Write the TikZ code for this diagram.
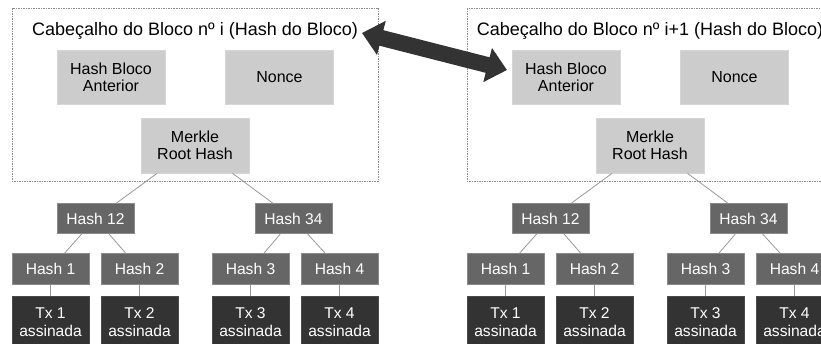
\documentclass[tikz,border=0pt]{standalone}
\usepackage{fontspec}
\setmainfont{Liberation Sans}
\usetikzlibrary{arrows.meta}
\definecolor{lightbox}{HTML}{CCCCCC}
\definecolor{lightedge}{HTML}{D6D6D6}
\definecolor{midbox}{HTML}{666666}
\definecolor{midedge}{HTML}{8A8A8A}
\definecolor{darkbox}{HTML}{333333}
\definecolor{darkedge}{HTML}{4A4A4A}
\definecolor{connc}{HTML}{999999}
\definecolor{framec}{HTML}{8C8C8C}
\definecolor{arrowc}{HTML}{333333}
\tikzset{
  lbox/.style={fill=lightbox, draw=lightedge, line width=0.6pt, inner sep=0pt, align=center,
    minimum width=108pt, minimum height=54pt, text=black,
    font=\fontsize{16}{17}\selectfont},
  hbox/.style={fill=midbox, draw=midedge, line width=0.6pt, inner sep=0pt, align=center,
    minimum width=77pt, minimum height=30.5pt, text=white,
    font=\fontsize{15.6}{17}\selectfont},
  tbox/.style={fill=darkbox, draw=darkedge, line width=0.6pt, inner sep=0pt, align=center,
    minimum width=77pt, minimum height=52pt, text=white,
    font=\fontsize{15.6}{18.3}\selectfont},
  frame/.style={draw=framec, line width=0.6pt, dash pattern=on 1.5pt off 1pt},
  titletext/.style={inner sep=0pt, font=\fontsize{18}{20}\selectfont, text=black},
  conn/.style={draw=connc, line width=0.8pt},
  bigarrow/.style={draw=arrowc, line width=16pt,
    {Triangle[length=20pt,width=34pt]}-{Triangle[length=20pt,width=34pt]}}
}
\begin{document}
\begin{tikzpicture}[x=1pt,y=-1pt]
\useasboundingbox (0,0) rectangle (821,343);
\clip (0,0) rectangle (821,343);
\fill[white] (0,0) rectangle (821,343);
\foreach \o/\p/\t/\tx in {0/a/i/195, 455/b/i+1/650}{
  \draw[frame] (\o+12,8) rectangle (\o+378,181);
  \node[titletext] (\p-title) at (\tx,31) {Cabeçalho do Bloco nº \t\ (Hash do Bloco)};
  \node[lbox] (\p-prev) at (\o+111,77) {Hash Bloco\\Anterior};
  \node[lbox] (\p-nonce) at (\o+279.5,77) {Nonce};
  \node[lbox, minimum height=55pt] (\p-m) at (\o+195,145.5) {Merkle\\Root Hash};
  \node[hbox] (\p-h12) at (\o+95.5,218.5) {Hash 12};
  \node[hbox] (\p-h34) at (\o+293.5,218.5) {Hash 34};
  \node[hbox] (\p-h1) at (\o+50.5,269) {Hash 1};
  \node[hbox] (\p-h2) at (\o+139.5,269) {Hash 2};
  \node[hbox] (\p-h3) at (\o+250.5,269) {Hash 3};
  \node[hbox] (\p-h4) at (\o+339.5,269) {Hash 4};
  \node[tbox] (\p-t1) at (\o+50.5,322) {Tx 1\\assinada};
  \node[tbox] (\p-t2) at (\o+139.5,322) {Tx 2\\assinada};
  \node[tbox] (\p-t3) at (\o+250.5,322) {Tx 3\\assinada};
  \node[tbox] (\p-t4) at (\o+339.5,322) {Tx 4\\assinada};
  \draw[conn] (\p-m) -- (\p-h12);
  \draw[conn] (\p-m) -- (\p-h34);
  \draw[conn] (\p-h12) -- (\p-h1);
  \draw[conn] (\p-h12) -- (\p-h2);
  \draw[conn] (\p-h34) -- (\p-h3);
  \draw[conn] (\p-h34) -- (\p-h4);
  \draw[conn] (\p-h1) -- (\p-t1);
  \draw[conn] (\p-h2) -- (\p-t2);
  \draw[conn] (\p-h3) -- (\p-t3);
  \draw[conn] (\p-h4) -- (\p-t4);
}
\coordinate (arrL) at (362,33);
\coordinate (arrR) at (507,70);
\draw[bigarrow] (arrL) -- (arrR);
\end{tikzpicture}
\end{document}
